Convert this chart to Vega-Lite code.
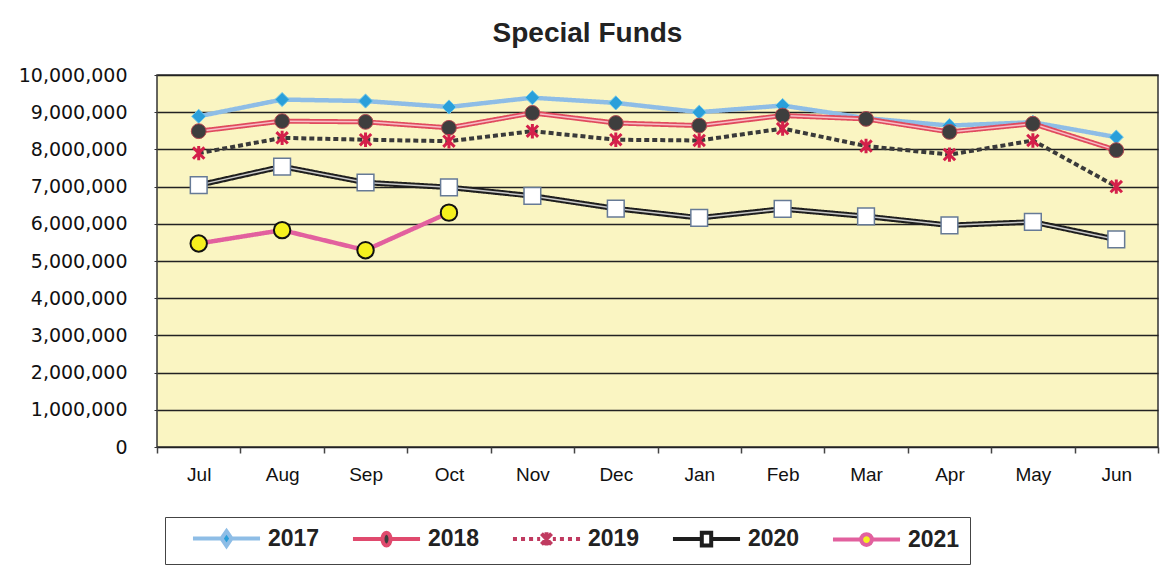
{
  "$schema": "https://vega.github.io/schema/vega-lite/v6.json",
  "width": 1001,
  "height": 372,
  "autosize": "none",
  "padding": {"left": 157, "top": 75, "right": 17, "bottom": 126},
  "background": "white",
  "title": {"text": "Special Funds", "font": "Liberation Sans", "fontSize": 28, "fontWeight": "bold", "color": "#222222", "offset": 18, "dx": -70},
  "config": {
    "view": {"stroke": "#333333", "strokeWidth": 1.5, "fill": "#FAF5C2"},
    "axis": {"domain": false}
  },
  "data": {"values": [
    {"month": "Jul", "year": "2017", "value": 8890000},
    {"month": "Aug", "year": "2017", "value": 9340000},
    {"month": "Sep", "year": "2017", "value": 9300000},
    {"month": "Oct", "year": "2017", "value": 9140000},
    {"month": "Nov", "year": "2017", "value": 9390000},
    {"month": "Dec", "year": "2017", "value": 9250000},
    {"month": "Jan", "year": "2017", "value": 9000000},
    {"month": "Feb", "year": "2017", "value": 9180000},
    {"month": "Mar", "year": "2017", "value": 8840000},
    {"month": "Apr", "year": "2017", "value": 8640000},
    {"month": "May", "year": "2017", "value": 8730000},
    {"month": "Jun", "year": "2017", "value": 8330000},
    {"month": "Jul", "year": "2018", "value": 8490000},
    {"month": "Aug", "year": "2018", "value": 8760000},
    {"month": "Sep", "year": "2018", "value": 8740000},
    {"month": "Oct", "year": "2018", "value": 8580000},
    {"month": "Nov", "year": "2018", "value": 8980000},
    {"month": "Dec", "year": "2018", "value": 8710000},
    {"month": "Jan", "year": "2018", "value": 8640000},
    {"month": "Feb", "year": "2018", "value": 8910000},
    {"month": "Mar", "year": "2018", "value": 8820000},
    {"month": "Apr", "year": "2018", "value": 8470000},
    {"month": "May", "year": "2018", "value": 8690000},
    {"month": "Jun", "year": "2018", "value": 7980000},
    {"month": "Jul", "year": "2019", "value": 7900000},
    {"month": "Aug", "year": "2019", "value": 8310000},
    {"month": "Sep", "year": "2019", "value": 8260000},
    {"month": "Oct", "year": "2019", "value": 8220000},
    {"month": "Nov", "year": "2019", "value": 8490000},
    {"month": "Dec", "year": "2019", "value": 8260000},
    {"month": "Jan", "year": "2019", "value": 8240000},
    {"month": "Feb", "year": "2019", "value": 8560000},
    {"month": "Mar", "year": "2019", "value": 8090000},
    {"month": "Apr", "year": "2019", "value": 7860000},
    {"month": "May", "year": "2019", "value": 8240000},
    {"month": "Jun", "year": "2019", "value": 7000000},
    {"month": "Jul", "year": "2020", "value": 7040000},
    {"month": "Aug", "year": "2020", "value": 7540000},
    {"month": "Sep", "year": "2020", "value": 7110000},
    {"month": "Oct", "year": "2020", "value": 6980000},
    {"month": "Nov", "year": "2020", "value": 6750000},
    {"month": "Dec", "year": "2020", "value": 6410000},
    {"month": "Jan", "year": "2020", "value": 6160000},
    {"month": "Feb", "year": "2020", "value": 6400000},
    {"month": "Mar", "year": "2020", "value": 6200000},
    {"month": "Apr", "year": "2020", "value": 5960000},
    {"month": "May", "year": "2020", "value": 6050000},
    {"month": "Jun", "year": "2020", "value": 5580000},
    {"month": "Jul", "year": "2021", "value": 5470000},
    {"month": "Aug", "year": "2021", "value": 5830000},
    {"month": "Sep", "year": "2021", "value": 5290000},
    {"month": "Oct", "year": "2021", "value": 6300000}
  ]},
  "encoding": {
    "x": {
      "field": "month", "type": "ordinal", "sort": ["Jul","Aug","Sep","Oct","Nov","Dec","Jan","Feb","Mar","Apr","May","Jun"],
      "scale": {"type": "band", "paddingInner": 0, "paddingOuter": 0},
      "axis": {"title": null, "labelAngle": 0, "tickBand": "extent", "tickSize": 6, "tickColor": "#444444", "tickWidth": 1.5,
               "labelFont": "Liberation Sans", "labelFontSize": 19, "labelColor": "#111111", "labelPadding": 12, "grid": false}
    },
    "y": {
      "field": "value", "type": "quantitative",
      "scale": {"domain": [0, 10000000], "nice": false},
      "axis": {"title": null, "values": [0,1000000,2000000,3000000,4000000,5000000,6000000,7000000,8000000,9000000,10000000],
               "format": ",d", "grid": true, "gridColor": "#222222", "gridWidth": 1.5, "tickSize": 3, "tickColor": "#333333",
               "labelFont": "DejaVu Sans", "labelFontSize": 19, "labelColor": "#111111", "labelPadding": 27}
    }
  },
  "layer": [
    {
      "mark": {"type": "line"},
      "encoding": {
        "detail": {"field": "year"},
        "color": {"condition": [
          {"test": "datum.year === '2017'", "value": "#8EBDE6"},
          {"test": "datum.year === '2018'", "value": "#E04A5E"},
          {"test": "datum.year === '2019'", "value": "#3A3A3A"},
          {"test": "datum.year === '2020'", "value": "#1E1E1E"}
        ], "value": "#E2609E"},
        "strokeDash": {"condition": {"test": "datum.year === '2019'", "value": [5, 3]}, "value": [1, 0]},
        "strokeWidth": {"condition": [
          {"test": "datum.year === '2018'", "value": 5},
          {"test": "datum.year === '2019'", "value": 4},
          {"test": "datum.year === '2020'", "value": 5.5}
        ], "value": 4.5}
      }
    },
    {
      "transform": [{"filter": "datum.year === '2018' || datum.year === '2020'"}],
      "mark": {"type": "line", "strokeWidth": 1.5},
      "encoding": {
        "detail": {"field": "year"},
        "color": {"condition": {"test": "datum.year === '2018'", "value": "#F7BEC6"}, "value": "#C9C9C9"}
      }
    },
    {
      "mark": {"type": "point", "filled": true},
      "encoding": {
        "opacity": {"value": 0},
        "shape": {"field": "year", "type": "nominal",
          "scale": {"domain": ["2017","2018","2019","2020","2021"], "range": [
            "M-5,0H-0.75M0.75,0H5M0,-1.1L0.75,0L0,1.1L-0.75,0Z",
            "M-5,0H-0.6M0.6,0H5M0,-0.95A0.6,0.95 0 1 1 0,0.95A0.6,0.95 0 1 1 0,-0.95Z",
            "M-5,0H-4.4M-3.8,0H-3.2M-2.6,0H-2M-1.4,0H-0.95M0.95,0H1.4M2,0H2.6M3.2,0H3.8M4.4,0H5M-0.75,-0.8L0.75,0.8M-0.75,0.8L0.75,-0.8M0,-1V1",
            "M-5,0H-0.7M0.7,0H5M-0.7,-0.95H0.7V0.95H-0.7Z",
            "M-5,0H-0.8M0.8,0H5M0,-0.8A0.8,0.8 0 1 1 0,0.8A0.8,0.8 0 1 1 0,-0.8Z"
          ]},
          "legend": {
            "title": null, "orient": "none", "legendX": 8, "legendY": 442, "direction": "horizontal",
            "symbolSize": 180, "symbolStrokeWidth": 4, "symbolOffset": 40, "labelOffset": 30, "symbolOpacity": 1,
            "labelFont": "Liberation Sans", "labelFontWeight": "bold", "labelFontSize": 23, "labelColor": "#222222",
            "strokeColor": "#444444", "fillColor": "#FFFFFF", "padding": 10, "columnPadding": 15
          }
        },
        "fill": {"field": "year", "type": "nominal",
          "scale": {"domain": ["2017","2018","2019","2020","2021"], "range": ["#2A9FDA","#3E3E3E","#D4204A","#FFFFFF","#F5F01E"]}},
        "stroke": {"field": "year", "type": "nominal",
          "scale": {"domain": ["2017","2018","2019","2020","2021"], "range": ["#8EBDE6","#E04A6E","#C03A60","#1E1E1E","#E2609E"]}}
      }
    },
    {
      "mark": {"type": "point", "filled": false, "opacity": 1},
      "encoding": {
        "shape": {"condition": [
          {"test": "datum.year === '2017'", "value": "diamond"},
          {"test": "datum.year === '2018'", "value": "circle"},
          {"test": "datum.year === '2019'", "value": "M-0.75,-0.75L0.75,0.75M-0.75,0.75L0.75,-0.75M0,-0.95V0.95"},
          {"test": "datum.year === '2020'", "value": "square"}
        ], "value": "circle"},
        "fill": {"condition": [
          {"test": "datum.year === '2017'", "value": "#2A9FDA"},
          {"test": "datum.year === '2018'", "value": "#3E3E3E"},
          {"test": "datum.year === '2019'", "value": "#D4204A"},
          {"test": "datum.year === '2020'", "value": "#FFFFFF"}
        ], "value": "#F5F01E"},
        "stroke": {"condition": [
          {"test": "datum.year === '2017'", "value": "#6FC7E8"},
          {"test": "datum.year === '2018'", "value": "#B04850"},
          {"test": "datum.year === '2019'", "value": "#D4204A"},
          {"test": "datum.year === '2020'", "value": "#667A96"}
        ], "value": "#111111"},
        "strokeWidth": {"condition": [
          {"test": "datum.year === '2017'", "value": 1},
          {"test": "datum.year === '2018'", "value": 1},
          {"test": "datum.year === '2019'", "value": 3},
          {"test": "datum.year === '2020'", "value": 1.5}
        ], "value": 2},
        "size": {"condition": [
          {"test": "datum.year === '2017'", "value": 200},
          {"test": "datum.year === '2018'", "value": 220},
          {"test": "datum.year === '2019'", "value": 230},
          {"test": "datum.year === '2020'", "value": 280}
        ], "value": 270}
      }
    }
  ]
}
